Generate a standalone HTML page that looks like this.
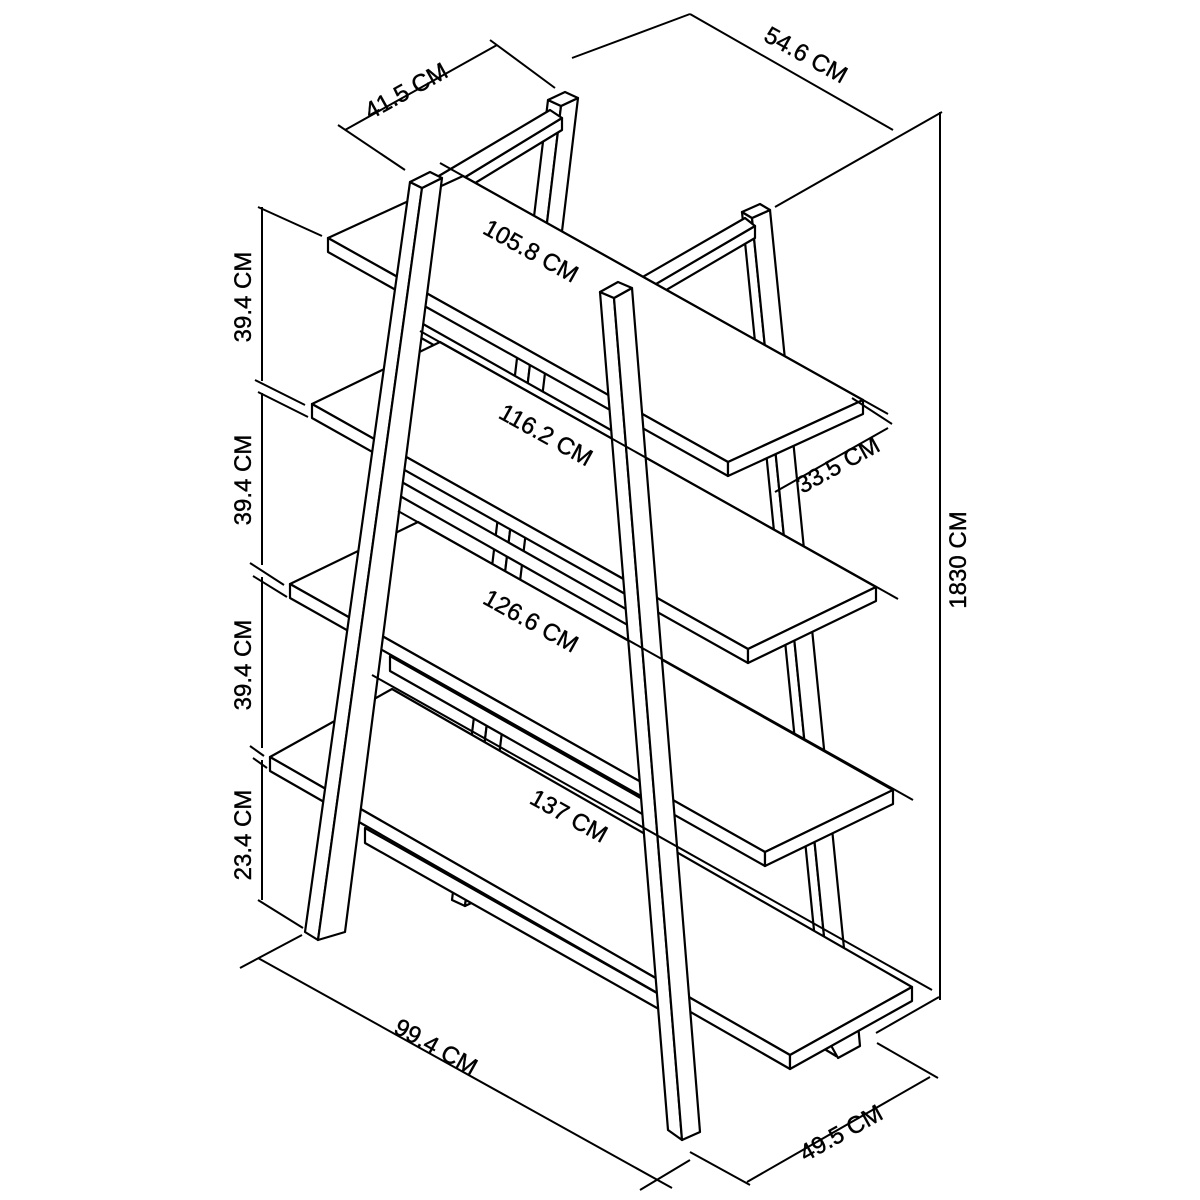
<!DOCTYPE html>
<html><head><meta charset="utf-8">
<style>
html,body{margin:0;padding:0;background:#fff;}
svg{display:block;}
text{font-family:"Liberation Sans",sans-serif;font-size:24px;fill:#000;stroke:#000;stroke-width:0.4;}
</style></head>
<body>
<svg width="1200" height="1200" viewBox="0 0 1200 1200" xmlns="http://www.w3.org/2000/svg">
<g stroke="#000" stroke-width="2.2" fill="#fff" stroke-linejoin="round">
<!-- back legs -->
<polygon points="548,100 561,106 465,906 452,900"/>
<polygon points="561,106 578,98 482,898 465,906"/>
<polygon points="548,100 565,92 578,98 561,106"/>
<polygon points="742,212 752,218 836,1056 826,1050"/>
<polygon points="752,218 770,210 854,1048 836,1056"/>
<polygon points="742,212 760,204 770,210 752,218"/>
<!-- back rails -->
<polygon points="400,311 625,438 625,453 400,326"/>
<polygon points="400,481 640,617 640,632 400,496"/>
<polygon points="390,656 660,809 660,824 390,671"/>
<polygon points="365,828 680,1006 680,1021 365,843"/>
<!-- feet -->
<polygon points="828,1040 858,1024 860,1046 838,1058"/>
<!-- top crossbars -->
<polygon points="444,190 562,118 562,130 444,202"/>
<polygon points="432,180 550,110 562,118 444,190"/>
<polygon points="632,298 755,226 755,238 632,310"/>
<polygon points="620,290 745,218 755,226 632,298"/>
<!-- shelf 1 -->
<polygon points="328,238 728,462 863,400 463,176"/>
<polygon points="328,238 728,462 728,476 328,252"/>
<polygon points="728,462 863,400 863,414 728,476"/>
<!-- shelf 2 -->
<polygon points="312,404 748,649 876,587 440,342"/>
<polygon points="312,404 748,649 748,663 312,418"/>
<polygon points="748,649 876,587 876,601 748,663"/>
<!-- shelf 3 -->
<polygon points="290,584 765,852 893,790 418,522"/>
<polygon points="290,584 765,852 765,866 290,598"/>
<polygon points="765,852 893,790 893,804 765,866"/>
<!-- shelf 4 -->
<polygon points="270,757 790,1055 912,987 392,689"/>
<polygon points="270,757 790,1055 790,1069 270,771"/>
<polygon points="790,1055 912,987 912,1001 790,1069"/>
<!-- front legs -->
<polygon points="410,182 422,188 318,940 305,932"/>
<polygon points="422,188 442,178 345,932 318,940"/>
<polygon points="410,182 430,172 442,178 422,188"/>
<polygon points="600,292 614,298 682,1140 668,1130"/>
<polygon points="614,298 632,288 700,1132 682,1140"/>
<polygon points="600,292 618,282 632,288 614,298"/>
</g>
<g stroke="#000" stroke-width="2" fill="none">
<line x1="440" y1="163" x2="888" y2="414"/>
<line x1="420" y1="331" x2="898" y2="599"/>
<line x1="398" y1="511" x2="913" y2="800"/>
<line x1="372" y1="675" x2="932" y2="990"/>
<line x1="338" y1="125" x2="405" y2="170"/>
<line x1="490" y1="40" x2="555" y2="88"/>
<line x1="345" y1="130" x2="497" y2="45"/>
<line x1="572" y1="58" x2="690" y2="14"/>
<line x1="690" y1="14" x2="893" y2="130"/>
<line x1="775" y1="207" x2="942" y2="112"/>
<line x1="940" y1="112" x2="940" y2="1000"/>
<line x1="876" y1="1033" x2="939" y2="997"/>
<line x1="852" y1="398" x2="892" y2="424"/>
<line x1="775" y1="492" x2="888" y2="428"/>
<line x1="690" y1="1152" x2="750" y2="1185"/>
<line x1="747" y1="1182" x2="930" y2="1077"/>
<line x1="877" y1="1043" x2="938" y2="1078"/>
<line x1="240" y1="968" x2="302" y2="935"/>
<line x1="258" y1="958" x2="672" y2="1188"/>
<line x1="640" y1="1190" x2="690" y2="1160"/>
<line x1="262" y1="207" x2="262" y2="381"/>
<line x1="262" y1="393" x2="262" y2="565"/>
<line x1="262" y1="577" x2="262" y2="748"/>
<line x1="262" y1="760" x2="262" y2="900"/>
<line x1="258" y1="207" x2="322" y2="236"/>
<line x1="255" y1="380" x2="305" y2="405"/>
<line x1="258" y1="392" x2="308" y2="417"/>
<line x1="250" y1="563" x2="284" y2="585"/>
<line x1="253" y1="576" x2="287" y2="597"/>
<line x1="250" y1="746" x2="264" y2="756"/>
<line x1="253" y1="758" x2="267" y2="768"/>
<line x1="258" y1="900" x2="303" y2="928"/>
</g>
<g>
<text transform="translate(527,258) rotate(29)" text-anchor="middle">105.8 CM</text>
<text transform="translate(542,442) rotate(29)" text-anchor="middle">116.2 CM</text>
<text transform="translate(527,628) rotate(29)" text-anchor="middle">126.6 CM</text>
<text transform="translate(565,823) rotate(29)" text-anchor="middle">137 CM</text>
<text transform="translate(410,98) rotate(-29)" text-anchor="middle">41.5 CM</text>
<text transform="translate(802,62) rotate(29)" text-anchor="middle">54.6 CM</text>
<text transform="translate(842,472) rotate(-29)" text-anchor="middle">33.5 CM</text>
<text transform="translate(966,560) rotate(-90)" text-anchor="middle">1830 CM</text>
<text transform="translate(251,297) rotate(-90)" text-anchor="middle">39.4 CM</text>
<text transform="translate(251,480) rotate(-90)" text-anchor="middle">39.4 CM</text>
<text transform="translate(251,665) rotate(-90)" text-anchor="middle">39.4 CM</text>
<text transform="translate(251,835) rotate(-90)" text-anchor="middle">23.4 CM</text>
<text transform="translate(432,1054) rotate(29)" text-anchor="middle">99.4 CM</text>
<text transform="translate(845,1140) rotate(-29)" text-anchor="middle">49.5 CM</text>
</g>
</svg>
</body></html>
